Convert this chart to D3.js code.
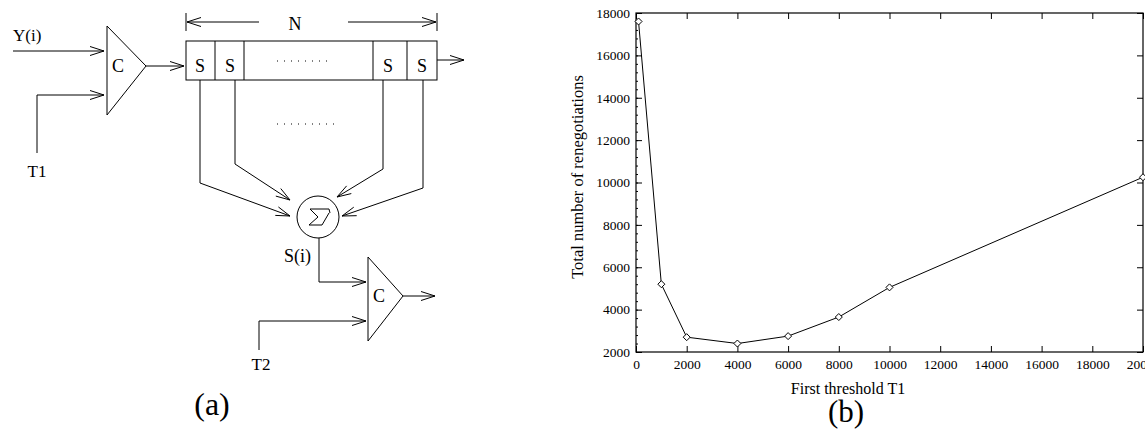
<!DOCTYPE html>
<html>
<head>
<meta charset="utf-8">
<script src="https://cdn.jsdelivr.net/npm/d3@7"></script>
<style>
  html, body { margin: 0; padding: 0; background: #fff; }
  svg { display: block; }
  text { font-family: "Liberation Serif", "Times New Roman", Times, serif; fill: #000; }
</style>
</head>
<body>
<svg id="fig" width="1145" height="430"></svg>
<script>
// ---- chart (b) data ----
const thresholdT1 = [100, 1000, 2000, 4000, 6000, 8000, 10000, 20000];
const renegotiations = [17600, 5200, 2700, 2400, 2750, 3650, 5050, 10250];
const xTickValues = [0, 2000, 4000, 6000, 8000, 10000, 12000, 14000, 16000, 18000, 20000];
const yTickValues = [2000, 4000, 6000, 8000, 10000, 12000, 14000, 16000, 18000];
const xTitle = "First threshold T1";
const yTitle = "Total number of renegotiations";

const svg = d3.select("#fig");

// ================= Diagram (a) =================
const dg = svg.append("g").attr("fill", "none").attr("stroke", "#000").attr("stroke-width", 1);

function line(pts) {
  dg.append("path").attr("d", d3.line()(pts)).attr("fill", "none");
}
function arrowHead(x1, y1, x2, y2, len = 14, hw = 4.5) {
  const a = Math.atan2(y2 - y1, x2 - x1);
  const bx = x2 - len * Math.cos(a), by = y2 - len * Math.sin(a);
  const px = -Math.sin(a) * hw, py = Math.cos(a) * hw;
  line([[bx + px, by + py], [x2, y2], [bx - px, by - py]]);
}
function arrow(pts) {
  line(pts);
  const n = pts.length;
  arrowHead(pts[n - 2][0], pts[n - 2][1], pts[n - 1][0], pts[n - 1][1]);
}
function label(x, y, s, size, anchor = "middle") {
  svg.append("text").attr("x", x).attr("y", y).attr("text-anchor", anchor)
    .attr("font-size", size).text(s);
}

// input Y(i)
arrow([[13, 51], [104, 51]]);
label(13, 41, "Y(i)", 17, "start");
// T1 input
arrow([[37, 153], [37, 95], [104, 95]]);
label(37, 177, "T1", 17);
// comparator 1
line([[107, 26], [107, 115], [146, 66], [107, 26]]);
label(118, 72, "C", 18);
arrow([[146, 66], [184, 66]]);
// shift register
dg.append("rect").attr("x", 186).attr("y", 41).attr("width", 251).attr("height", 39);
[215, 244, 373, 407].forEach(x => line([[x, 41], [x, 80]]));
[[200, "S"], [230, "S"], [388, "S"], [422, "S"]].forEach(([x, s]) => label(x, 72, s, 18));
dg.append("path").attr("d", "M277,61 L333,61").attr("stroke-dasharray", "1,6");
arrow([[437, 60], [464, 60]]);
// N dimension
line([[186, 13], [186, 31]]);
line([[437, 13], [437, 31]]);
arrow([[259, 22], [187, 22]]);
arrow([[348, 22], [436, 22]]);
label(295, 30, "N", 18);
// taps to summer
arrow([[200, 80], [200, 183], [290, 216]]);
arrow([[235, 80], [235, 164], [290, 200]]);
arrow([[383, 80], [383, 169], [337, 197]]);
arrow([[423, 80], [423, 188], [342, 216]]);
dg.append("path").attr("d", "M277,124 L338,124").attr("stroke-dasharray", "1,6");
// summer
dg.append("circle").attr("cx", 318).attr("cy", 217).attr("r", 21);
line([[330, 213], [329, 209], [310, 209], [318, 217], [309, 225], [322, 225], [329, 213]]);
// S(i)
arrow([[319, 238], [319, 282], [366, 282]]);
label(284, 262, "S(i)", 18, "start");
// comparator 2
line([[368, 257], [368, 341], [403, 296], [368, 257]]);
label(379, 302, "C", 18);
arrow([[403, 296], [435, 296]]);
// T2 input
arrow([[259, 350], [259, 321], [366, 321]]);
label(261, 370, "T2", 17);
label(212, 415, "(a)", 32);

// ================= Chart (b) =================
const L = 636, R = 1143, T = 13, B = 352;
const x = d3.scaleLinear().domain([0, 20000]).range([L, R]);
const y = d3.scaleLinear().domain([2000, 18000]).range([B, T]);
const g = svg.append("g");

function styleAxis(sel) {
  sel.selectAll(".domain").remove();
  sel.selectAll("line").attr("stroke", "#000").attr("stroke-width", 1);
  sel.selectAll("text").attr("font-family", "Liberation Serif, serif").attr("font-size", 13.5).attr("fill", "#000");
}
// bottom axis with labels (ticks inward)
g.append("g").attr("transform", `translate(0,${B})`)
  .call(d3.axisBottom(x).tickValues(xTickValues).tickFormat(d3.format("d")).tickSizeInner(-6).tickSizeOuter(0).tickPadding(7))
  .call(styleAxis);
// top axis ticks
g.append("g").attr("transform", `translate(0,${T})`)
  .call(d3.axisTop(x).tickValues(xTickValues).tickFormat("").tickSizeInner(-6).tickSizeOuter(0))
  .call(styleAxis);
// left axis
g.append("g").attr("transform", `translate(${L},0)`)
  .call(d3.axisLeft(y).tickValues(yTickValues).tickFormat(d3.format("d")).tickSizeInner(-6).tickSizeOuter(0).tickPadding(6))
  .call(styleAxis);
// left minor ticks
g.append("g").attr("transform", `translate(${L},0)`)
  .call(d3.axisLeft(y).tickValues(d3.range(2000, 18001, 400)).tickFormat("").tickSizeInner(-2).tickSizeOuter(0))
  .call(styleAxis);
// right axis ticks
g.append("g").attr("transform", `translate(${R},0)`)
  .call(d3.axisRight(y).tickValues(yTickValues).tickFormat("").tickSizeInner(-6).tickSizeOuter(0))
  .call(styleAxis);
// frame
g.append("rect").attr("x", L).attr("y", T).attr("width", R - L).attr("height", B - T)
  .attr("fill", "none").attr("stroke", "#000").attr("stroke-width", 1.2);

// series
const pts = thresholdT1.map((t, i) => [t, renegotiations[i]]);
g.append("path").datum(pts)
  .attr("d", d3.line().x(d => x(d[0])).y(d => y(d[1])))
  .attr("fill", "none").attr("stroke", "#000").attr("stroke-width", 1);
g.selectAll(".pt").data(pts).enter().append("path")
  .attr("transform", d => `translate(${x(d[0])},${y(d[1])})`)
  .attr("d", "M0,-3.5 L3.5,0 L0,3.5 L-3.5,0 Z")
  .attr("fill", "#fff").attr("stroke", "#000").attr("stroke-width", 1);

// titles
svg.append("text").attr("x", 848).attr("y", 394).attr("text-anchor", "middle")
  .attr("font-size", 16).text(xTitle);
svg.append("text").attr("transform", "translate(583,177) rotate(-90)").attr("text-anchor", "middle")
  .attr("font-size", 16.5).text(yTitle);
label(846, 422, "(b)", 31);
</script>
</body>
</html>
